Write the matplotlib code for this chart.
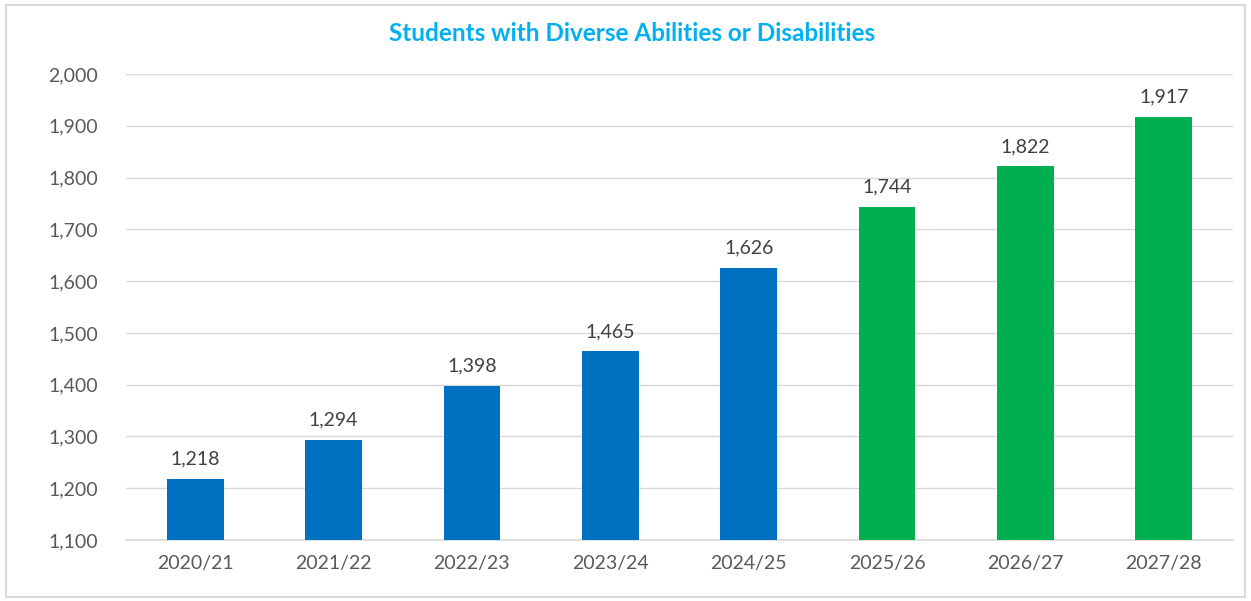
import matplotlib.pyplot as plt
from matplotlib.patches import Rectangle

# data
years = ["2020/21", "2021/22", "2022/23", "2023/24", "2024/25", "2025/26", "2026/27", "2027/28"]
students = [1218, 1294, 1398, 1465, 1626, 1744, 1822, 1917]
projected = [False, False, False, False, False, True, True, True]

plt.rcParams['font.family'] = ['Lato', 'DejaVu Sans']

fig = plt.figure(figsize=(12.51, 6.01), dpi=100)
ax = fig.add_axes([0.1007, 0.1015, 0.8849, 0.7754])

colors = ['#00B050' if p else '#0070C0' for p in projected]
x = range(len(years))
bars = ax.bar(x, students, width=0.41, color=colors, zorder=3)

for b, v in zip(bars, students):
    ax.annotate(f"{v:,}", (b.get_x() + b.get_width() / 2, v), xytext=(0, 8),
                textcoords='offset points', ha='center', va='bottom',
                fontsize=14, color='#404040')

ax.set_xlim(-0.5, len(years) - 0.5)
ax.set_ylim(1100, 2000)
ax.set_yticks(range(1100, 2001, 100))
ax.set_yticklabels([f"{t:,}" for t in range(1100, 2001, 100)])
ax.set_xticks(list(x))
ax.set_xticklabels(years)
ax.tick_params(axis='both', length=0, labelsize=14, labelcolor='#595959')
ax.tick_params(axis='y', pad=20)
ax.tick_params(axis='x', pad=11)

ax.grid(axis='y', color='#D9D9D9', linewidth=1, zorder=0)
for s in ['top', 'right', 'left']:
    ax.spines[s].set_visible(False)
ax.spines['bottom'].set_color('#D9D9D9')
ax.spines['bottom'].set_linewidth(1.2)

fig.text(0.505, 0.945, "Students with Diverse Abilities or Disabilities",
         ha='center', va='center', fontsize=17.5, fontweight='bold', color='#00B0F0')

# outer chart border
fig.patches.append(Rectangle((0.005, 0.006), 0.99, 0.985, transform=fig.transFigure,
                             fill=False, edgecolor='#D9D9D9', linewidth=1.5))

fig.savefig("out.png", dpi=100)
